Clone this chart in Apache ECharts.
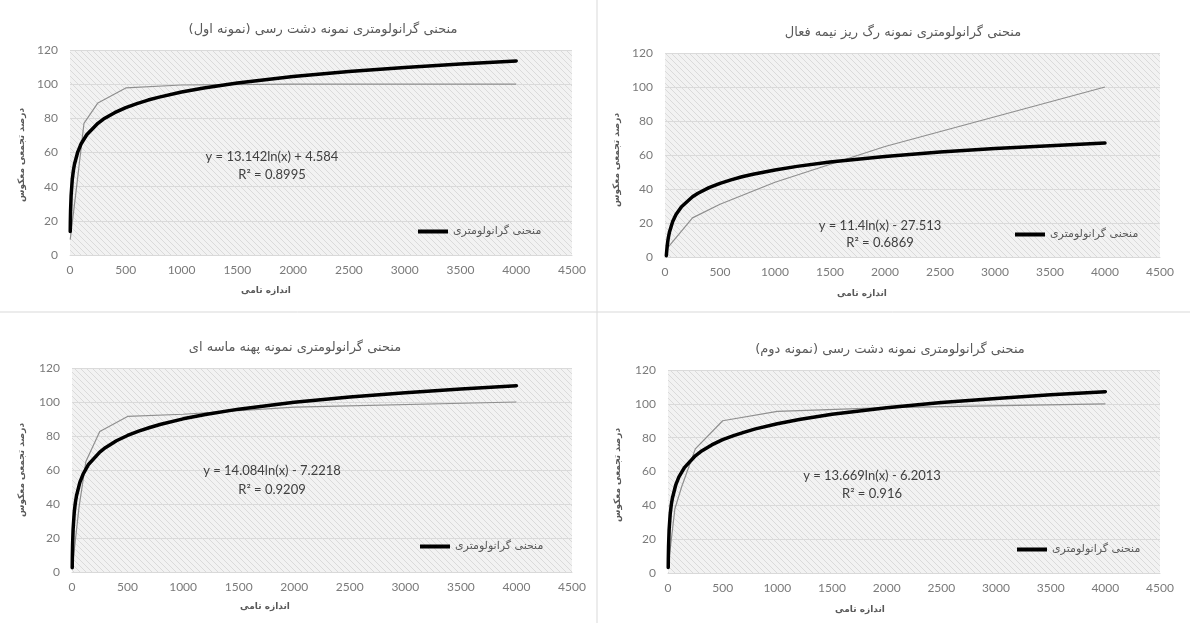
<!DOCTYPE html>
<html>
<head>
<meta charset="utf-8">
<script src="https://cdn.jsdelivr.net/npm/echarts@6/dist/echarts.min.js"></script>
<style>
html,body{margin:0;padding:0;background:#fff;}
#c{width:1190px;height:623px;}
</style>
</head>
<body>
<div id="c"></div>
<script>
// ---- data ----
const RLM = '\u200F';
const titles = [
  'منحنی گرانولومتری نمونه دشت رسی (نمونه اول)',
  'منحنی گرانولومتری نمونه رگ ریز نیمه فعال',
  'منحنی گرانولومتری نمونه پهنه ماسه ای',
  'منحنی گرانولومتری نمونه دشت رسی (نمونه دوم)'
];
const yTitle = 'درصد تجمعی معکوس';
const xTitle = 'اندازه تامی';
const legendName = 'منحنی گرانولومتری';
const equations = ['y = 13.142ln(x) + 4.584', 'y = 11.4ln(x) - 27.513', 'y = 14.084ln(x) - 7.2218', 'y = 13.669ln(x) - 6.2013'];
const rSquared = ['R² = 0.8995', 'R² = 0.6869', 'R² = 0.9209', 'R² = 0.916'];
const xTicks = [0, 500, 1000, 1500, 2000, 2500, 3000, 3500, 4000, 4500];
const yTicks = [0, 20, 40, 60, 80, 100, 120];

// measured (thin gray) curves
const dataX1 = [2, 63, 125, 250, 500, 1000, 2000, 4000];
const dataY1 = [9, 42, 77, 89, 97.8, 99.5, 100, 100];
const dataX2 = [12, 250, 500, 1000, 2000, 4000];
const dataY2 = [4.5, 23, 31, 44, 65, 100];
const dataX3 = [2, 63, 125, 250, 500, 1000, 2000, 4000];
const dataY3 = [2, 38, 65, 82.6, 91.5, 92.8, 97, 100];
const dataX4 = [2, 63, 125, 250, 500, 1000, 2000, 4000];
const dataY4 = [4, 38, 51, 73.4, 90, 95.5, 97.7, 100];

// thick black trend curves
const trendX = [2, 3, 5, 10, 20, 30, 40, 70, 100, 150, 250, 300, 400, 500, 600, 700, 800, 1000, 1200, 1500, 2000, 2500, 3000, 3500, 4000];
const trendX2 = [12, 20, 30, 40, 70, 100, 150, 250, 300, 400, 500, 600, 700, 800, 1000, 1200, 1500, 2000, 2500, 3000, 3500, 4000];
const trendY1 = [13.7, 19.0, 25.7, 34.8, 44.0, 49.3, 53.1, 60.4, 65.1, 70.4, 77.1, 79.6, 83.3, 86.3, 88.6, 90.7, 92.4, 95.4, 97.8, 100.7, 104.5, 107.4, 109.8, 111.8, 113.6];
const trendY2 = [0.8, 6.6, 11.3, 14.5, 20.9, 25.0, 29.6, 35.4, 37.5, 40.8, 43.3, 45.4, 47.2, 48.7, 51.2, 53.3, 55.9, 59.1, 61.7, 63.8, 65.5, 67.0];
const trendY3 = [2.5, 8.3, 15.5, 25.2, 35.0, 40.7, 44.7, 52.6, 57.6, 63.4, 70.5, 73.1, 77.2, 80.3, 82.9, 85.0, 86.9, 90.1, 92.6, 95.8, 99.8, 103.0, 105.5, 107.7, 109.6];
const trendY4 = [3.3, 8.8, 15.8, 25.3, 34.8, 40.3, 44.2, 51.9, 56.8, 62.3, 69.3, 71.8, 75.7, 78.8, 81.2, 83.3, 85.2, 88.2, 90.7, 93.8, 97.7, 100.8, 103.2, 105.4, 107.2];

const dataSets = [[dataX1, dataY1], [dataX2, dataY2], [dataX3, dataY3], [dataX4, dataY4]];
const trendSets = [[trendX, trendY1], [trendX2, trendY2], [trendX, trendY3], [trendX, trendY4]];

// ---- layout ----
const grids = [
  {left: 70, top: 50, width: 502, height: 205},
  {left: 665, top: 53, width: 495, height: 204},
  {left: 72, top: 368, width: 500, height: 204},
  {left: 668, top: 370, width: 492, height: 203}
];
const titlePos = [[318, 18], [898, 21], [290, 336], [885, 338]];
const eqPos = [[272, 157, 175], [880, 226, 243], [272, 471, 490], [872, 476, 494]];
const xTitlePos = [[266, 291], [862, 294], [265, 607], [860, 610]];
const yTitlePos = [[22, 155], [617, 160], [22, 470], [618, 475]];
const legendPos = [[413, 221], [1010, 224], [415, 536], [1012, 539]];

// hatch pattern
const pc = document.createElement('canvas');
pc.width = 6; pc.height = 6;
const g = pc.getContext('2d');
g.fillStyle = '#f2f2f2'; g.fillRect(0, 0, 6, 6);
g.strokeStyle = '#dadada'; g.lineWidth = 1;
g.beginPath();
g.moveTo(-1, -1); g.lineTo(7, 7);
g.moveTo(-1, 5); g.lineTo(1, 7);
g.moveTo(5, -1); g.lineTo(7, 1);
g.stroke();

const numFont = 'Lato, "Open Sans", "DejaVu Sans", sans-serif';
const faFont = '"DejaVu Sans", "Noto Sans", sans-serif';

const option = {
  animation: false,
  backgroundColor: '#ffffff',
  title: titles.map((t, i) => ({
    text: RLM + t + RLM,
    left: titlePos[i][0], top: titlePos[i][1], textAlign: 'center',
    textStyle: {fontSize: 13, fontWeight: 'normal', color: '#595959', fontFamily: faFont}
  })),
  legend: legendPos.map((p, i) => ({
    left: p[0], top: p[1], data: [legendName],
    icon: 'rect', itemWidth: 30, itemHeight: 4, itemGap: 2,
    textStyle: {fontSize: 11, color: '#595959', fontFamily: faFont},
    selectedMode: false
  })),
  grid: grids.map(gr => Object.assign({show: true, borderWidth: 0, backgroundColor: {image: pc, repeat: 'repeat'}}, gr)),
  xAxis: grids.map((gr, i) => ({
    type: 'value', gridIndex: i, min: xTicks[0], max: xTicks[xTicks.length - 1], interval: xTicks[1] - xTicks[0],
    axisLine: {show: true, lineStyle: {color: '#d9d9d9'}},
    axisTick: {show: false},
    splitLine: {show: false},
    axisLabel: {fontSize: 12, color: '#7a7a7a', margin: 9, fontFamily: numFont, formatter: v => String(v)}
  })),
  yAxis: grids.map((gr, i) => ({
    type: 'value', gridIndex: i, min: yTicks[0], max: yTicks[yTicks.length - 1], interval: yTicks[1] - yTicks[0],
    axisLine: {show: false},
    axisTick: {show: false},
    splitLine: {show: true, lineStyle: {color: '#dadada', width: 1}},
    axisLabel: {fontSize: 12, color: '#7a7a7a', margin: 12, fontFamily: numFont, formatter: v => String(v)}
  })),
  series: [],
  graphic: []
};

dataSets.forEach((d, i) => {
  option.series.push({
    name: 'data' + (i + 1), type: 'line', xAxisIndex: i, yAxisIndex: i,
    data: d[0].map((x, k) => [x, d[1][k]]),
    showSymbol: false, symbol: 'none',
    lineStyle: {color: '#8f8f8f', width: 1.2},
    z: 2
  });
});
trendSets.forEach((d, i) => {
  option.series.push({
    name: legendName, type: 'line', xAxisIndex: i, yAxisIndex: i,
    data: d[0].map((x, k) => [x, d[1][k]]),
    showSymbol: false, symbol: 'none', smooth: false,
    itemStyle: {color: '#000000'},
    lineStyle: {color: '#000000', width: 3.5, cap: 'round', join: 'round'},
    z: 3
  });
});

equations.forEach((e, i) => {
  option.graphic.push({type: 'text', x: eqPos[i][0], y: eqPos[i][1], z: 10,
    style: {text: e, align: 'center', verticalAlign: 'middle', fill: '#404040', font: '13px ' + numFont}});
  option.graphic.push({type: 'text', x: eqPos[i][0], y: eqPos[i][2], z: 10,
    style: {text: rSquared[i], align: 'center', verticalAlign: 'middle', fill: '#404040', font: '13px ' + numFont}});
  option.graphic.push({type: 'text', x: xTitlePos[i][0], y: xTitlePos[i][1], z: 10,
    style: {text: xTitle, align: 'center', verticalAlign: 'middle', fill: '#595959', font: 'bold 9px ' + faFont}});
  option.graphic.push({type: 'text', x: yTitlePos[i][0], y: yTitlePos[i][1], rotation: Math.PI / 2, z: 10,
    style: {text: yTitle, align: 'center', verticalAlign: 'middle', fill: '#595959', font: 'bold 9px ' + faFont}});
});
option.graphic.push({type: 'line', shape: {x1: 597, y1: 0, x2: 597, y2: 623}, style: {stroke: '#d9d9d9', lineWidth: 1}});
option.graphic.push({type: 'line', shape: {x1: 0, y1: 312, x2: 1190, y2: 312}, style: {stroke: '#d9d9d9', lineWidth: 1}});

const chart = echarts.init(document.getElementById('c'), null, {renderer: 'canvas'});
chart.setOption(option);
</script>
</body>
</html>
